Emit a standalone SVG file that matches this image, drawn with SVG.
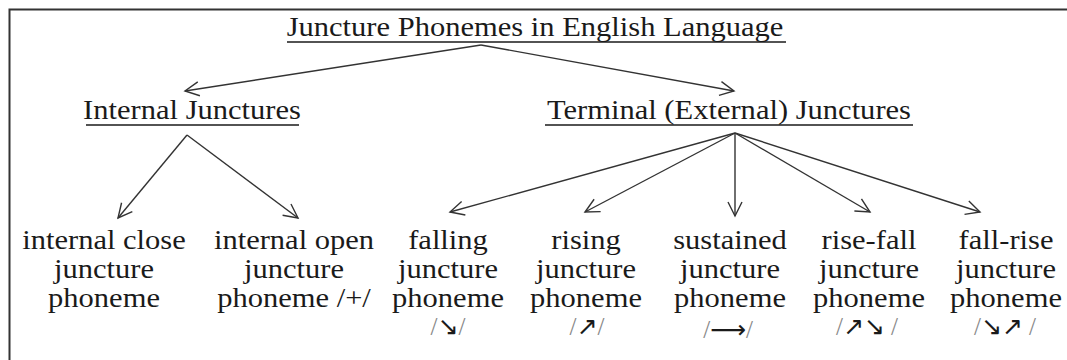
<svg xmlns="http://www.w3.org/2000/svg" width="1067" height="360" viewBox="0 0 1067 360">
<defs>
<style>
.t{font-family:"Liberation Serif","Times New Roman",serif;font-size:27.5px;fill:#1a1a1a;text-anchor:middle}
.s{font-family:"Liberation Serif","DejaVu Sans",serif;font-size:25px;fill:#1a1a1a;text-anchor:middle}
.sl{fill:#888}
.u{stroke:#1a1a1a;stroke-width:1.3}
.c{stroke:#333;stroke-width:1.4;fill:none;marker-end:url(#ah)}
</style>
<marker id="ah" viewBox="0 0 20 20" refX="18" refY="10" markerWidth="20" markerHeight="20" markerUnits="userSpaceOnUse" orient="auto">
<polyline points="4,3 18,10 4,17" fill="none" stroke="#333" stroke-width="1.4"/>
</marker>
</defs>
<rect width="1067" height="360" fill="#fff"/>
<path d="M9.5,370 V9.5 H1080" fill="none" stroke="#333" stroke-width="2"/>
<g id="root">
<text class="t" transform="translate(535,36) scale(1.11,1)">Juncture Phonemes in English Language</text>
<line class="u" x1="287" y1="42" x2="786" y2="42"/>
</g>
<g id="internal">
<text class="t" transform="translate(192,119) scale(1.11,1)">Internal Junctures</text>
<line class="u" x1="86" y1="125" x2="299" y2="125"/>
</g>
<g id="terminal">
<text class="t" transform="translate(729,119) scale(1.11,1)">Terminal (External) Junctures</text>
<line class="u" x1="545" y1="125" x2="913" y2="125"/>
</g>
<g id="close">
<text class="t" transform="translate(104,249) scale(1.11,1)">internal close</text>
<text class="t" transform="translate(104,278) scale(1.11,1)">juncture</text>
<text class="t" transform="translate(104,307) scale(1.11,1)">phoneme</text>
</g>
<g id="open">
<text class="t" transform="translate(294,249) scale(1.11,1)">internal open</text>
<text class="t" transform="translate(294,278) scale(1.11,1)">juncture</text>
<text class="t" transform="translate(294,307) scale(1.11,1)">phoneme /+/</text>
</g>
<g id="falling">
<text class="t" transform="translate(448,249) scale(1.11,1)">falling</text>
<text class="t" transform="translate(448,278) scale(1.11,1)">juncture</text>
<text class="t" transform="translate(448,307) scale(1.11,1)">phoneme</text>
<text class="s" x="448" y="335"><tspan class="sl">/</tspan>↘<tspan class="sl">/</tspan></text>
</g>
<g id="rising">
<text class="t" transform="translate(586,249) scale(1.11,1)">rising</text>
<text class="t" transform="translate(586,278) scale(1.11,1)">juncture</text>
<text class="t" transform="translate(586,307) scale(1.11,1)">phoneme</text>
<text class="s" x="587" y="335"><tspan class="sl">/</tspan>↗<tspan class="sl">/</tspan></text>
</g>
<g id="sustained">
<text class="t" transform="translate(730,249) scale(1.11,1)">sustained</text>
<text class="t" transform="translate(730,278) scale(1.11,1)">juncture</text>
<text class="t" transform="translate(730,307) scale(1.11,1)">phoneme</text>
<text class="s" x="728" y="338"><tspan class="sl">/</tspan>⟶<tspan class="sl">/</tspan></text>
</g>
<g id="risefall">
<text class="t" transform="translate(869,249) scale(1.11,1)">rise-fall</text>
<text class="t" transform="translate(869,278) scale(1.11,1)">juncture</text>
<text class="t" transform="translate(869,307) scale(1.11,1)">phoneme</text>
<text class="s" x="867" y="335"><tspan class="sl">/</tspan>↗↘ <tspan class="sl">/</tspan></text>
</g>
<g id="fallrise">
<text class="t" transform="translate(1006,249) scale(1.11,1)">fall-rise</text>
<text class="t" transform="translate(1006,278) scale(1.11,1)">juncture</text>
<text class="t" transform="translate(1006,307) scale(1.11,1)">phoneme</text>
<text class="s" x="1005" y="335"><tspan class="sl">/</tspan>↘↗ <tspan class="sl">/</tspan></text>
</g>
<g id="connectors">
<line class="c" x1="481" y1="45" x2="185" y2="91"/>
<line class="c" x1="481" y1="45" x2="734" y2="91"/>
<line class="c" x1="187" y1="135" x2="118" y2="218"/>
<line class="c" x1="187" y1="135" x2="298" y2="218"/>
<line class="c" x1="735" y1="133" x2="450" y2="212"/>
<line class="c" x1="735" y1="133" x2="585" y2="212"/>
<line class="c" x1="735" y1="133" x2="735" y2="216"/>
<line class="c" x1="735" y1="133" x2="870" y2="212"/>
<line class="c" x1="735" y1="133" x2="980" y2="212"/>
</g>
</svg>
